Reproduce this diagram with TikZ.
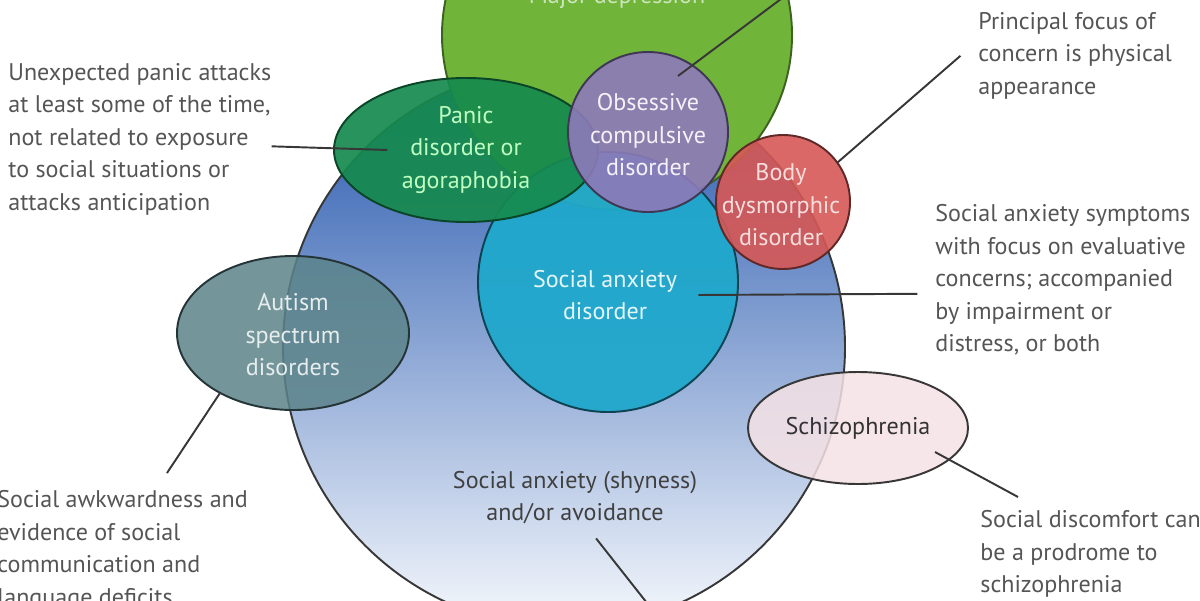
\documentclass[tikz,border=0pt]{standalone}
\usepackage{fontspec}
\setmainfont{PT Sans}
\usetikzlibrary{positioning}
\definecolor{txtgrey}{RGB}{85, 85, 85}
\definecolor{linegrey}{RGB}{55, 55, 55}
\definecolor{deprgreen}{RGB}{112, 180, 58}
\definecolor{panicgreen}{RGB}{22, 138, 78}
\definecolor{ocdpurple}{RGB}{142, 122, 186}
\definecolor{bodyred}{RGB}{214, 88, 86}
\definecolor{socblue}{RGB}{32, 168, 204}
\definecolor{autgrey}{RGB}{92, 132, 138}
\definecolor{schizpink}{RGB}{246, 226, 229}
\definecolor{bigtop}{RGB}{34, 84, 172}
\definecolor{bigmid}{RGB}{78, 124, 200}
\definecolor{bigbottom}{RGB}{246, 249, 253}
\tikzset{%
    lbl/.style={font=\fontsize{13.7}{18.5}\selectfont, inner sep=0pt},
    note/.style={lbl, text=txtgrey, align=left, anchor=north west},
    inside/.style={lbl, align=center},
    ring/.style={line width=1.1pt},
    pointer/.style={draw=linegrey, line width=1.1pt}
}

\begin{document}
\begin{tikzpicture}

    \useasboundingbox (0, 0) rectangle (24, 12);
    \clip (0, 0) rectangle (24, 12);

    % Social anxiety / avoidance
    \shade[top color=bigtop, middle color=bigmid, bottom color=bigbottom,
           draw=linegrey, ring]
        (11.28, 5.06) circle (5.62);
    \node[inside, text=black!75] (bigtext) at (11.5, 2.05)
        {Social anxiety (shyness)\\and/or avoidance};

    % Major depression
    \fill[deprgreen, draw=deprgreen!55!black, ring] (12.34, 11.3) circle (3.5);
    \node[inside, text=deprgreen!35!white] (depression) at (12.34, 12.05)
        {Major depression};

    % Social anxiety disorder
    \fill[socblue, fill opacity=0.95, draw=socblue!40!black, ring]
        (12.16, 6.36) circle (2.6);
    \node[inside, text=white!88!socblue] (socdis) at (12.1, 6.1)
        {Social anxiety\\disorder};

    % Panic disorder
    \fill[panicgreen, fill opacity=0.92, draw=panicgreen!50!black, ring]
        (9.32, 9.0) ellipse (2.64 and 1.44);
    \node[inside, text=green!25!white] (panic) at (9.32, 9.0)
        {Panic\\disorder or\\agoraphobia};

    % Obsessive compulsive disorder
    \fill[ocdpurple, fill opacity=0.9, draw=ocdpurple!45!black, ring]
        (12.96, 9.36) circle (1.6);
    \node[inside, text=white!90!ocdpurple] (ocd) at (12.96, 9.3)
        {Obsessive\\compulsive\\disorder};

    % Body dysmorphic disorder
    \fill[bodyred, fill opacity=0.9, draw=bodyred!45!black, ring]
        (15.66, 7.96) circle (1.34);
    \node[inside, text=white!80!bodyred] (body) at (15.62, 7.9)
        {Body\\dysmorphic\\disorder};

    % Autism spectrum disorders
    \fill[autgrey, fill opacity=0.85, draw=autgrey!40!black, ring]
        (5.86, 5.34) ellipse (2.32 and 1.54);
    \node[inside, text=white!85!autgrey] (autism) at (5.86, 5.3)
        {Autism\\spectrum\\disorders};

    % Schizophrenia
    \fill[schizpink, fill opacity=0.85, draw=linegrey, ring]
        (17.16, 3.44) ellipse (2.2 and 1.12);
    \node[inside, text=black!80] (schizo) at (17.16, 3.44) {Schizophrenia};

    % Notes
    \node[note] (panicnote) at (0.16, 10.74)
        {Unexpected panic attacks\\at least some of the time,\\not related to exposure\\to social situations or\\attacks anticipation};
    \node[note] (bodynote) at (19.56, 11.76)
        {Principal focus of\\concern is physical\\appearance};
    \node[note] (socnote) at (18.7, 7.92)
        {Social anxiety symptoms\\with focus on evaluative\\concerns; accompanied\\by impairment or\\distress, or both};
    \node[note] (autnote) at (-0.06, 2.2)
        {Social awkwardness and\\evidence of social\\communication and\\language deficits};
    \node[note] (schiznote) at (19.6, 1.8)
        {Social discomfort can\\be a prodrome to\\schizophrenia};

    % Pointers
    \coordinate (deptop) at (15.86, 12.2);
    \coordinate (deptip) at (13.56, 10.48);
    \coordinate (bodytip) at (16.75, 8.75);
    \coordinate (auttip) at (4.4, 4.14);
    \coordinate (autfoot) at (3.34, 2.54);
    \coordinate (schiztip) at (18.7, 2.96);
    \coordinate (schizfoot) at (20.36, 2.06);
    \coordinate (bigfoot) at (13.05, -0.2);
    \draw[pointer] (deptop) -- (deptip);
    \draw[pointer] ([yshift=-4pt] panicnote.east) -- ([xshift=-8pt] panic.west);
    \draw[pointer] ([xshift=-10pt] bodynote.west) -- (bodytip);
    \draw[pointer] ([xshift=12pt] socdis.east) -- ([xshift=-10pt, yshift=-8pt] socnote.west);
    \draw[pointer] (auttip) -- (autfoot);
    \draw[pointer] (schiztip) -- (schizfoot);
    \draw[pointer] ([xshift=12pt, yshift=-8pt] bigtext.south) -- (bigfoot);

\end{tikzpicture}
\end{document}
